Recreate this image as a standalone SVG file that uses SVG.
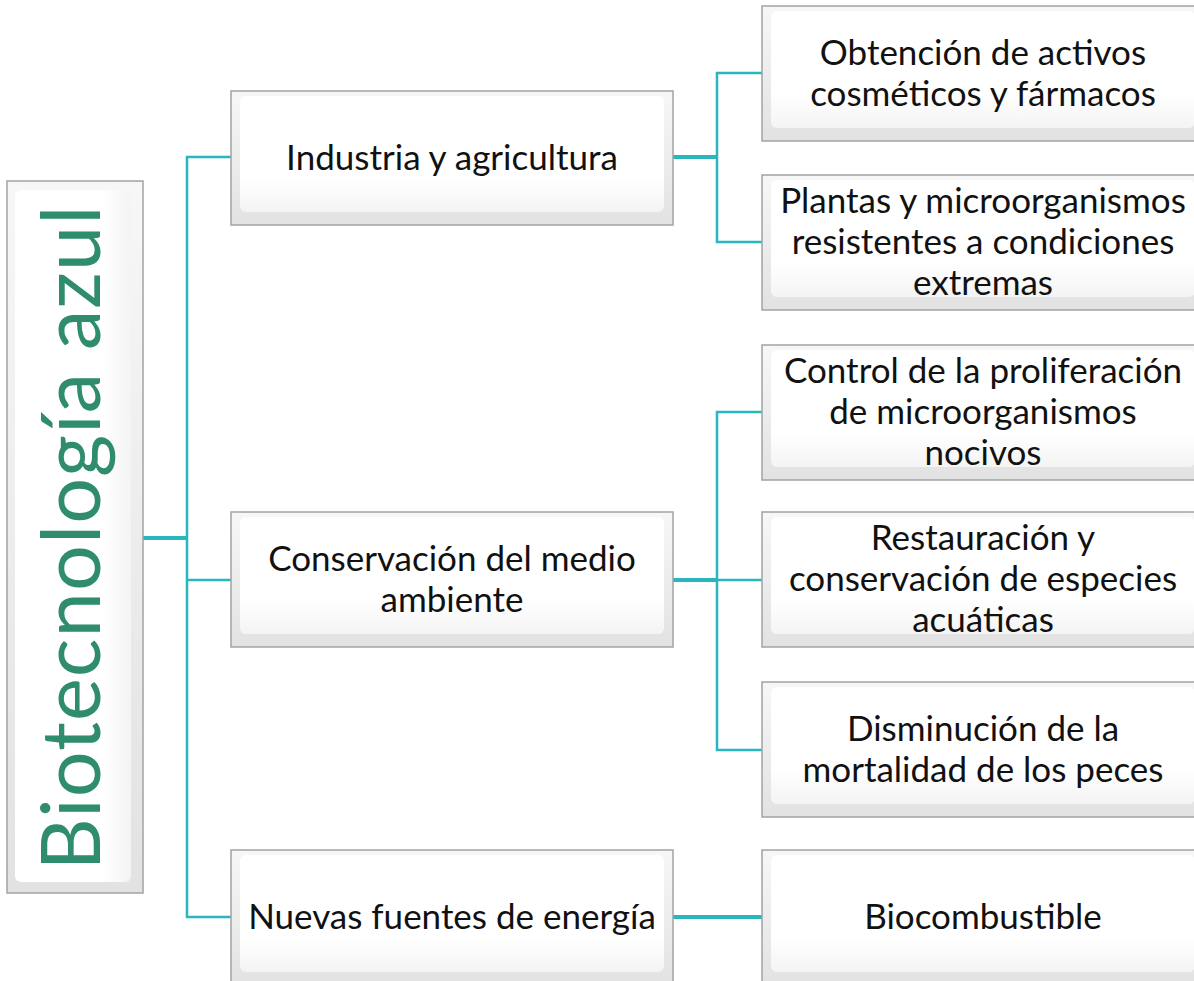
<svg xmlns="http://www.w3.org/2000/svg" width="1194" height="981" viewBox="0 0 1194 981">
<defs>
<linearGradient id="edge" x1="0" y1="0" x2="0" y2="1">
<stop offset="0" stop-color="#f7f7f7"/>
<stop offset="1" stop-color="#e2e2e2"/>
</linearGradient>
<linearGradient id="face" x1="0" y1="0" x2="0" y2="1">
<stop offset="0" stop-color="#ffffff"/>
<stop offset="0.7" stop-color="#ffffff"/>
<stop offset="1" stop-color="#f4f4f4"/>
</linearGradient>
<linearGradient id="faceH" x1="0" y1="0" x2="1" y2="0">
<stop offset="0" stop-color="#ffffff"/>
<stop offset="0.75" stop-color="#ffffff"/>
<stop offset="1" stop-color="#f4f4f4"/>
</linearGradient>
</defs>
<style>
.box{fill:url(#edge);stroke:#a3a3a3;stroke-width:1.5}
.face{fill:url(#face)}
.faceH{fill:url(#faceH)}
.t{font-family:Lato,"Liberation Sans",sans-serif;font-size:35px;fill:#111;text-anchor:middle}
.root{font-family:Lato,"Liberation Sans",sans-serif;font-size:81px;fill:#2f8c6f;text-anchor:middle}
.c{fill:none;stroke:#2bb5bf;stroke-width:2.5}
.ct{fill:none;stroke:#2bb5bf;stroke-width:4}
</style>
<g id="connectors">
<path class="ct" d="M143 538 H187"/>
<path class="c" d="M231 157 H187 V917 H231 M187 580 H231"/>
<path class="ct" d="M673 157 H717"/>
<path class="c" d="M762 73 H717 V242 H762"/>
<path class="ct" d="M673 580 H717"/>
<path class="c" d="M762 412 H717 V750 H762 M717 580 H762"/>
<path class="ct" d="M673 917 H762"/>
</g>
<g id="root">
<rect class="box" x="7" y="181" width="136" height="712"/>
<rect class="faceH" x="15" y="190" width="116" height="692" rx="6"/>
<text class="root" transform="translate(100,538) rotate(-90)" textLength="665" lengthAdjust="spacing">Biotecnología azul</text>
</g>
<g id="n1">
<rect class="box" x="231" y="91" width="442" height="134"/>
<rect class="face" x="240" y="96" width="424" height="116" rx="6"/>
<text class="t" x="452" y="170">Industria y agricultura</text>
</g>
<g id="n2">
<rect class="box" x="231" y="512" width="442" height="135"/>
<rect class="face" x="240" y="517" width="424" height="117" rx="6"/>
<text class="t" x="452" y="571">Conservación del medio</text>
<text class="t" x="452" y="612">ambiente</text>
</g>
<g id="n3">
<rect class="box" x="231" y="850" width="442" height="135"/>
<rect class="face" x="240" y="855" width="424" height="117" rx="6"/>
<text class="t" x="452" y="929">Nuevas fuentes de energía</text>
</g>
<g id="n4">
<rect class="box" x="762" y="6" width="442" height="135"/>
<rect class="face" x="771" y="11" width="424" height="117" rx="6"/>
<text class="t" x="983" y="65">Obtención de activos</text>
<text class="t" x="983" y="106">cosméticos y fármacos</text>
</g>
<g id="n5">
<rect class="box" x="762" y="175" width="442" height="135"/>
<rect class="face" x="771" y="180" width="424" height="117" rx="6"/>
<text class="t" x="983" y="213">Plantas y microorganismos</text>
<text class="t" x="983" y="254">resistentes a condiciones</text>
<text class="t" x="983" y="295">extremas</text>
</g>
<g id="n6">
<rect class="box" x="762" y="345" width="442" height="135"/>
<rect class="face" x="771" y="350" width="424" height="117" rx="6"/>
<text class="t" x="983" y="383">Control de la proliferación</text>
<text class="t" x="983" y="424">de microorganismos</text>
<text class="t" x="983" y="465">nocivos</text>
</g>
<g id="n7">
<rect class="box" x="762" y="512" width="442" height="135"/>
<rect class="face" x="771" y="517" width="424" height="117" rx="6"/>
<text class="t" x="983" y="550">Restauración y</text>
<text class="t" x="983" y="591">conservación de especies</text>
<text class="t" x="983" y="632">acuáticas</text>
</g>
<g id="n8">
<rect class="box" x="762" y="682" width="442" height="135"/>
<rect class="face" x="771" y="687" width="424" height="117" rx="6"/>
<text class="t" x="983" y="741">Disminución de la</text>
<text class="t" x="983" y="782">mortalidad de los peces</text>
</g>
<g id="n9">
<rect class="box" x="762" y="850" width="442" height="135"/>
<rect class="face" x="771" y="855" width="424" height="117" rx="6"/>
<text class="t" x="983" y="929">Biocombustible</text>
</g>
</svg>
